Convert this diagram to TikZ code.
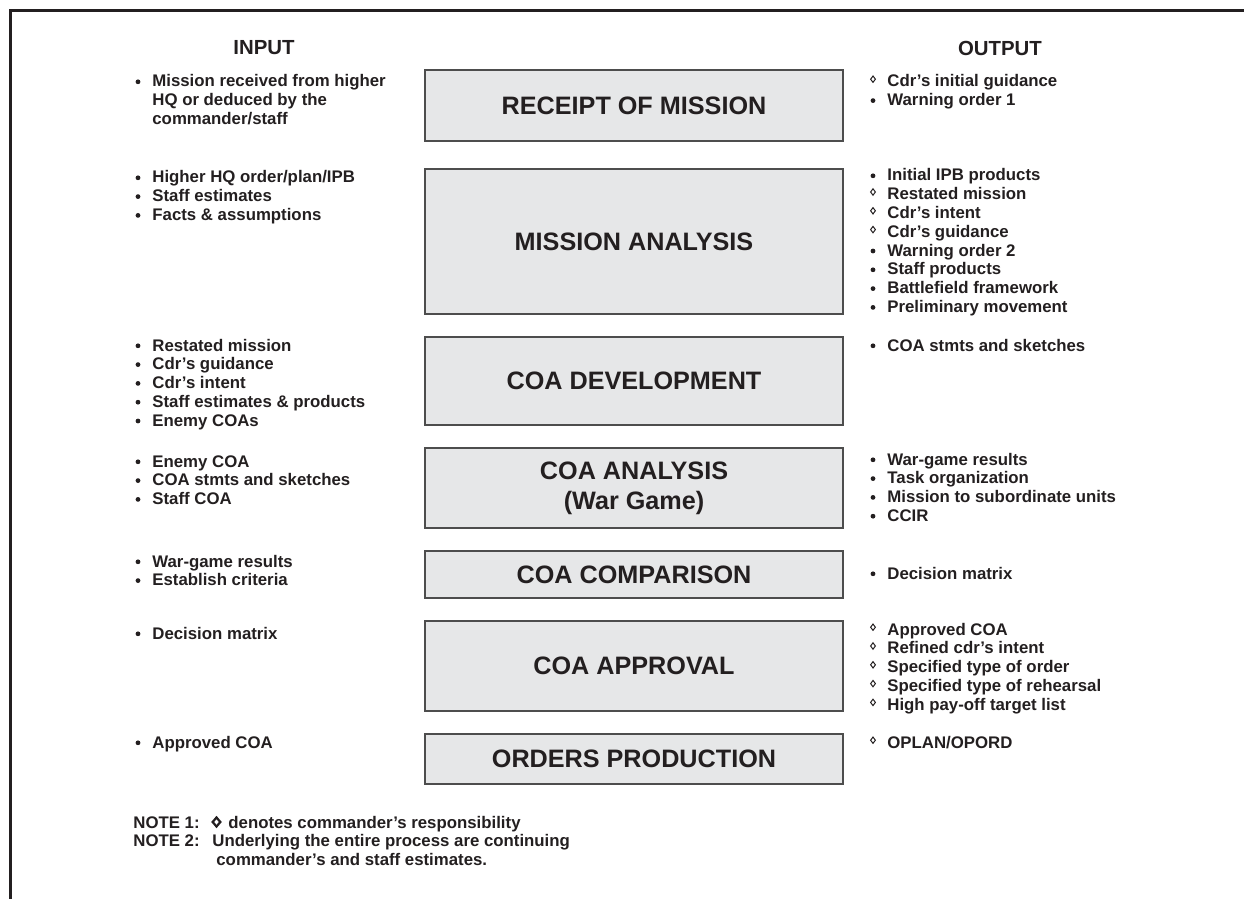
\documentclass[tikz,border=0pt]{standalone}
\usepackage{fontspec}
\setmainfont{Liberation Sans}
\usetikzlibrary{shapes.geometric,positioning}
\definecolor{ink}{HTML}{231F20}
\definecolor{boxfill}{HTML}{E6E7E8}
\definecolor{boxline}{HTML}{4D4D4D}
\tikzset{
  stage/.style={draw=boxline,fill=boxfill,line width=0.6pt,minimum width=209pt,inner sep=0pt,outer sep=0pt,text=ink,align=center,font=\bfseries\fontsize{12.6}{15}\selectfont},
  item/.style={anchor=base west,inner sep=0pt,text=ink,font=\bfseries\fontsize{8.4}{9.4}\selectfont},
  head/.style={text=ink,font=\bfseries\fontsize{10.2}{12}\selectfont},
  sym-b/.style={circle,fill=ink,inner sep=0pt,minimum size=2.4pt,yshift=2.6pt},
  sym-d/.style={diamond,draw=ink,line width=0.5pt,inner sep=0pt,minimum width=2.6pt,minimum height=3.4pt,yshift=3.9pt},
  sym-n/.style={inner sep=0pt},
}
\newcommand\stagelist[4]{%
  \foreach \m/\t [count=\n] in {#4}{%
    \pgfmathsetmacro\y{#3+18.8*(\n-1)}
    \node[item] (#1\n) at (#2,\y) {\t};
    \node[sym-\m] at (#2-14,\y) {};
  }}

\begin{document}
\begin{tikzpicture}[x=0.5pt,y=-0.5pt]
\useasboundingbox (0,0) rectangle (1244,899);
\draw[ink,line width=1.5pt] (1244,10.5) -- (10.5,10.5) -- (10.5,899);

\node[head] (input) at (264,48) {INPUT};
\node[head] (output) at (1000,48) {OUTPUT};

\node[stage,minimum height=35.5pt] (receipt) at (634,105.5) {RECEIPT OF MISSION};
\node[stage,minimum height=72.5pt,below=14pt of receipt] (analysis) {MISSION ANALYSIS};
\node[stage,minimum height=44pt,below=11.5pt of analysis] (develop) {COA DEVELOPMENT};
\node[stage,minimum height=40pt,below=11.5pt of develop] (wargame) {COA ANALYSIS\\(War Game)};
\node[stage,minimum height=23.5pt,below=11.5pt of wargame] (compare) {COA COMPARISON};
\node[stage,minimum height=45pt,below=11.5pt of compare] (approve) {COA APPROVAL};
\node[stage,minimum height=25pt,below=11.5pt of approve] (orders) {ORDERS PRODUCTION};

\stagelist{inA}{152}{87}{b/{Mission received from higher},n/{HQ or deduced by the},n/{commander/staff}}
\stagelist{inB}{152}{183}{b/{Higher HQ order/plan/IPB},b/{Staff estimates},b/{Facts \& assumptions}}
\stagelist{inC}{152}{351}{b/{Restated mission},b/{Cdr’s guidance},b/{Cdr’s intent},b/{Staff estimates \& products},b/{Enemy COAs}}
\stagelist{inD}{152}{467}{b/{Enemy COA},b/{COA stmts and sketches},b/{Staff COA}}
\stagelist{inE}{152}{567}{b/{War-game results},b/{Establish criteria}}
\stagelist{inF}{152}{639}{b/{Decision matrix}}
\stagelist{inG}{152}{748}{b/{Approved COA}}

\stagelist{outA}{887}{87}{d/{Cdr’s initial guidance},b/{Warning order 1}}
\stagelist{outB}{887}{181}{b/{Initial IPB products},d/{Restated mission},d/{Cdr’s intent},d/{Cdr’s guidance},b/{Warning order 2},b/{Staff products},b/{Battlefield framework},b/{Preliminary movement}}
\stagelist{outC}{887}{351}{b/{COA stmts and sketches}}
\stagelist{outD}{887}{465}{b/{War-game results},b/{Task organization},b/{Mission to subordinate units},b/{CCIR}}
\stagelist{outE}{887}{579}{b/{Decision matrix}}
\stagelist{outF}{887}{635}{d/{Approved COA},d/{Refined cdr’s intent},d/{Specified type of order},d/{Specified type of rehearsal},d/{High pay-off target list}}
\stagelist{outG}{887}{748}{d/{OPLAN/OPORD}}

\node[item] (note1) at (133,828) {NOTE 1:};
\node[diamond,draw=ink,line width=1.1pt,inner sep=0pt,minimum width=4.3pt,minimum height=5pt] (notemark) at (216.5,822) {};
\node[item] (note1b) at (228,828) {denotes commander’s responsibility};
\node[item] (note2) at (133,846.8) {NOTE 2:};
\node[item] (note2b) at (212,846.8) {Underlying the entire process are continuing};
\node[item] (note3) at (216,865.6) {commander’s and staff estimates.};
\end{tikzpicture}
\end{document}
